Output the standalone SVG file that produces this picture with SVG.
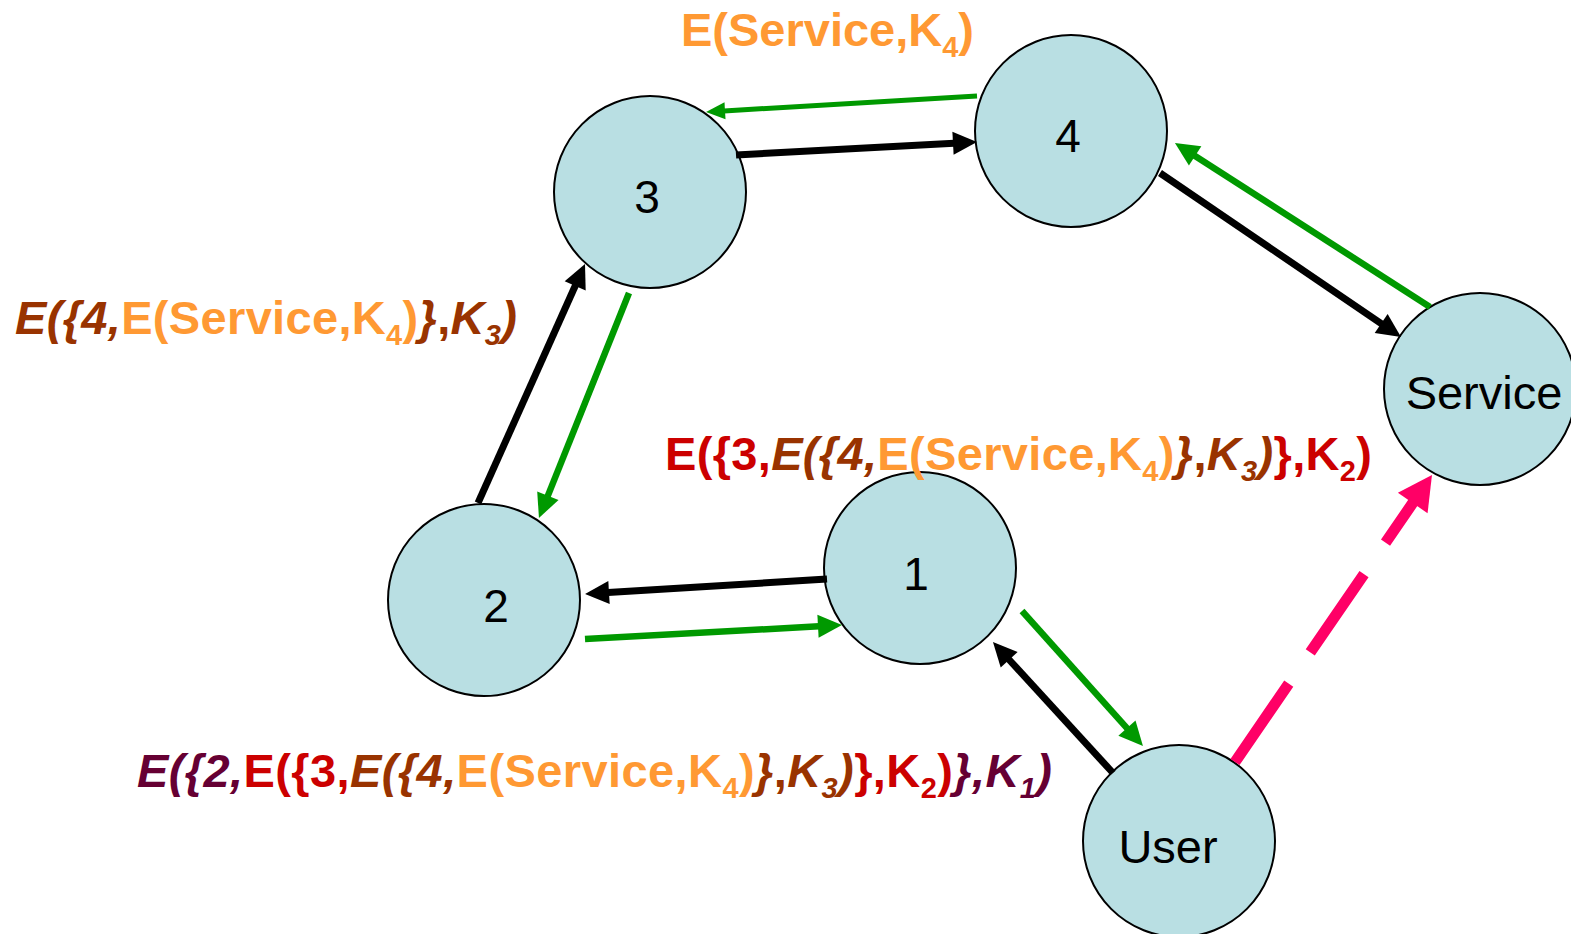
<svg xmlns="http://www.w3.org/2000/svg" width="1571" height="934" viewBox="0 0 1571 934">
<style>
.node circle{fill:#B9DFE3;stroke:#000;stroke-width:2}
.node text{font-family:"Liberation Sans",Arial,sans-serif;font-size:46px;fill:#000;text-anchor:middle}
.lbl{font-family:"Liberation Sans",Arial,sans-serif;font-size:47px;font-weight:bold}
.o{fill:#FF9933;font-style:normal}
.b{fill:#993300;font-style:italic}
.r{fill:#CC0000;font-style:normal}
.p{fill:#660033;font-style:italic}
.sub{font-size:29px}
.bk{stroke:#000;stroke-width:7;fill:none;marker-end:url(#ab)}
.gr{stroke:#009900;stroke-width:6.5;fill:none;marker-end:url(#ag)}
.gs{stroke:#009900;stroke-width:5;fill:none;marker-end:url(#ags)}
.pk{stroke:#FF0066;stroke-width:11;fill:none;stroke-dasharray:95 38;marker-end:url(#ap)}
</style>
<defs>
<marker id="ab" markerUnits="userSpaceOnUse" markerWidth="24" markerHeight="24" refX="0" refY="11.5" orient="auto" overflow="visible"><path d="M-1,0 L23,11.5 L-1,23 Z" fill="#000"/></marker>
<marker id="ag" markerUnits="userSpaceOnUse" markerWidth="24" markerHeight="23" refX="0" refY="11.5" orient="auto" overflow="visible"><path d="M-1,0 L23,11.5 L-1,23 Z" fill="#009900"/></marker>
<marker id="ags" markerUnits="userSpaceOnUse" markerWidth="19" markerHeight="18" refX="0" refY="8.5" orient="auto" overflow="visible"><path d="M-1,0 L18,8.5 L-1,17 Z" fill="#009900"/></marker>
<marker id="ap" markerUnits="userSpaceOnUse" markerWidth="34" markerHeight="36" refX="0" refY="18" orient="auto" overflow="visible"><path d="M-1,0 L33,18 L-1,36 Z" fill="#FF0066"/></marker>
</defs>
<rect width="1571" height="934" fill="#fff"/>
<g id="node-3" class="node"><circle cx="650" cy="192" r="96"/><text x="647" y="213">3</text></g>
<g id="node-4" class="node"><circle cx="1071" cy="131" r="96"/><text x="1068" y="152">4</text></g>
<g id="node-2" class="node"><circle cx="484" cy="600" r="96"/><text x="496" y="622">2</text></g>
<g id="node-1" class="node"><circle cx="920" cy="568" r="96"/><text x="916" y="590">1</text></g>
<g id="node-service" class="node"><circle cx="1480" cy="389" r="96"/><text x="1484" y="409" style="font-size:47px">Service</text></g>
<g id="node-user" class="node"><circle cx="1179" cy="841" r="96"/><text x="1168" y="863" style="font-size:47px">User</text></g>
<g id="connectors">
<path class="bk" d="M736,155 L954,143.2"/>
<path class="bk" d="M478,503 L575.6,285"/>
<path class="bk" d="M827,579 L608,592.6"/>
<path class="bk" d="M1113,773 L1008.5,659"/>
<path class="bk" d="M1160,173 L1382,324.1"/>
<path class="gs" d="M977,96 L724,110.9"/>
<path class="gr" d="M629,293 L547.5,496.6"/>
<path class="gr" d="M585,639 L819,626.3"/>
<path class="gr" d="M1022,611 L1127.6,728.9"/>
<path class="gr" d="M1430,307 L1194.3,155.4"/>
<path class="pk" d="M1235,762 L1413.3,502.2"/>
</g>
<g id="labels">
<text class="lbl" x="681" y="46" textLength="293"><tspan class="o">E(Service,K</tspan><tspan class="o sub" dy="11">4</tspan><tspan class="o" dy="-11">)</tspan></text>
<text class="lbl" x="15" y="334" textLength="502"><tspan class="b">E({4,</tspan><tspan class="o">E(Service,K</tspan><tspan class="o sub" dy="11">4</tspan><tspan class="o" dy="-11">)</tspan><tspan class="b">}</tspan><tspan class="b" style="font-style:normal">,</tspan><tspan class="b">K</tspan><tspan class="b sub" dy="11">3</tspan><tspan class="b" dy="-11">)</tspan></text>
<text class="lbl" x="665" y="470" textLength="707"><tspan class="r">E({3,</tspan><tspan class="b">E({4,</tspan><tspan class="o">E(Service,K</tspan><tspan class="o sub" dy="11">4</tspan><tspan class="o" dy="-11">)</tspan><tspan class="b">}</tspan><tspan class="b" style="font-style:normal">,</tspan><tspan class="b">K</tspan><tspan class="b sub" dy="11">3</tspan><tspan class="b" dy="-11">)</tspan><tspan class="r">},K</tspan><tspan class="r sub" dy="11">2</tspan><tspan class="r" dy="-11">)</tspan></text>
<text class="lbl" x="137" y="787" textLength="915"><tspan class="p">E({2,</tspan><tspan class="r">E({3,</tspan><tspan class="b">E({4,</tspan><tspan class="o">E(Service,K</tspan><tspan class="o sub" dy="11">4</tspan><tspan class="o" dy="-11">)</tspan><tspan class="b">}</tspan><tspan class="b" style="font-style:normal">,</tspan><tspan class="b">K</tspan><tspan class="b sub" dy="11">3</tspan><tspan class="b" dy="-11">)</tspan><tspan class="r">},K</tspan><tspan class="r sub" dy="11">2</tspan><tspan class="r" dy="-11">)</tspan><tspan class="p">},K</tspan><tspan class="p sub" dy="11">1</tspan><tspan class="p" dy="-11">)</tspan></text>
</g>
</svg>
